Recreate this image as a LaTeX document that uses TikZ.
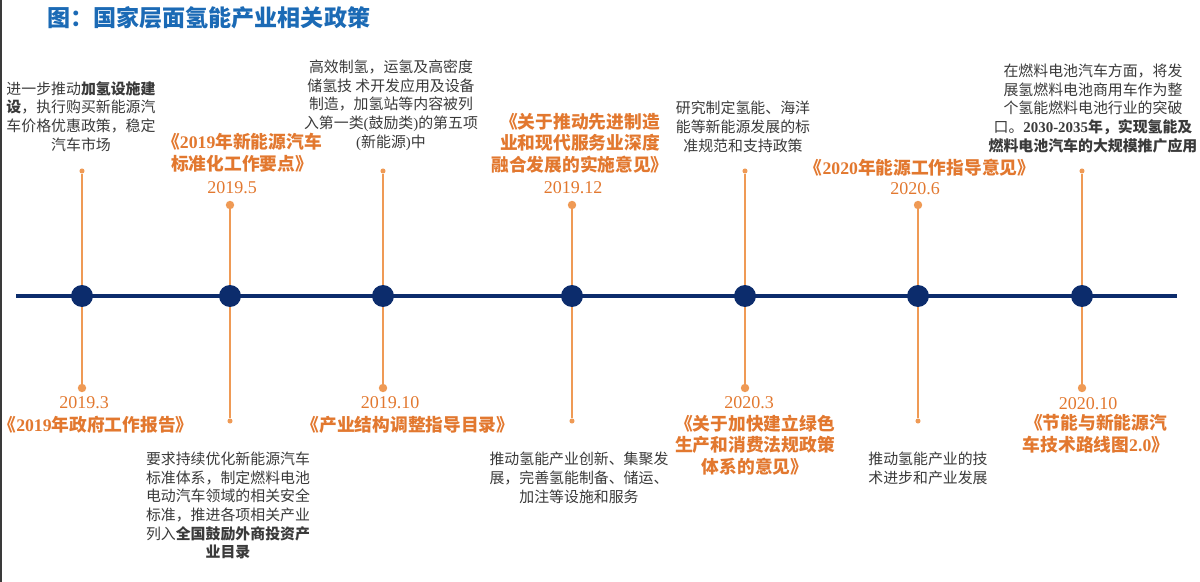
\documentclass[tikz,border=0pt]{standalone}
\usepackage{fontspec}
\setmainfont{Noto Sans CJK SC}
\newfontfamily\dig{Liberation Serif}
\usepackage{tikz}
\usetikzlibrary{positioning}
\definecolor{navy}{HTML}{0C2C6C}
\definecolor{orangetext}{HTML}{E2782F}
\definecolor{orangeline}{HTML}{EF9A55}
\definecolor{graytext}{HTML}{3A3A3A}
\definecolor{titleblue}{HTML}{1B6AB5}
\tikzset{
  axis/.style={navy,line width=2.2pt},
  bigdot/.style={circle,fill=navy,inner sep=0pt,minimum size=15.6pt},
  enddot/.style={circle,fill=orangeline,inner sep=0pt,minimum size=6pt},
  tipdot/.style={circle,fill=orangeline,inner sep=0pt,minimum size=3.6pt},
  stem/.style={orangeline,line width=0.8pt},
  note/.style={text=graytext,align=center,inner sep=0pt,font=\fontsize{10.6}{13.3}\selectfont},
  policy/.style={text=orangetext,align=center,inner sep=0pt,font=\fontsize{12.6}{15.4}\selectfont\bfseries},
  datelabel/.style={text=orangetext,inner sep=0pt,font=\fontsize{12.8}{15}\selectfont\dig},
}
\begin{document}
\begin{tikzpicture}[x=0.025cm,y=-0.025cm]
\useasboundingbox (0,0) rectangle (1200,582);
\draw[graytext,line width=1.1pt] (0.8,0) -- (0.8,582);
\node[text=titleblue,inner sep=0pt,anchor=west,font=\fontsize{16.4}{18}\selectfont\bfseries] (title) at (47,18) {图：国家层面氢能产业相关政策};

% timeline
\coordinate (ls) at (16,296);
\coordinate (le) at (1177,296);
\draw[axis] (ls) -- (le);
\foreach \x/\n in {82/1,383/3,745/5,1082/7} {
  \node[tipdot] (t\n) at (\x,171) {};
  \node[enddot] (b\n) at (\x,388) {};
}
\foreach \x/\n in {230/2,572/4,918/6} {
  \node[enddot] (t\n) at (\x,205) {};
  \node[tipdot] (b\n) at (\x,421) {};
}
\foreach \x/\n in {82/1,230/2,383/3,572/4,745/5,918/6,1082/7} {
  \node[bigdot] (d\n) at (\x,296) {};
  \draw[stem] (d\n) -- (t\n);
  \draw[stem] (d\n) -- (b\n);
}

% 2019.3
\node[note] (n1) at (81,116.5) {进一步推动\textbf{加氢设施建}\\\textbf{设}，执行购买新能源汽\\车价格优惠政策，稳定\\汽车市场};
\node[datelabel] (date1) at (84,403) {2019.3};
\node[policy] (p1) at (96,425) {《{\dig 2019}年政府工作报告》};

% 2019.5
\node[policy] (p2) at (242,153) {《{\dig 2019}年新能源汽车\\标准化工作要点》};
\node[datelabel] (date2) at (232,188) {2019.5};
\node[note] (n2) at (228,505.5) {要求持续优化新能源汽车\\标准体系，制定燃料电池\\电动汽车领域的相关安全\\标准，推进各项相关产业\\列入\textbf{全国鼓励外商投资产}\\\textbf{业目录}};

% 2019.10
\node[note] (n3) at (391,105) {高效制氢，运氢及高密度\\储氢技 术开发应用及设备\\制造，加氢站等内容被列\\入第一类{\dig(}鼓励类{\dig)}的第五项\\{\dig(}新能源{\dig)}中};
\node[datelabel] (date3) at (390,403) {2019.10};
\node[policy] (p3) at (408,425) {《产业结构调整指导目录》};

% 2019.12
\node[policy] (p4) at (580,143) {《关于推动先进制造\\业和现代服务业深度\\融合发展的实施意见》};
\node[datelabel] (date4) at (573,188) {2019.12};
\node[note] (n4) at (579,478) {推动氢能产业创新、集聚发\\展，完善氢能制备、储运、\\加注等设施和服务};

% 2020.3
\node[note] (n5) at (743,127) {研究制定氢能、海洋\\能等新能源发展的标\\准规范和支持政策};
\node[datelabel] (date5) at (749,403) {2020.3};
\node[policy] (p5) at (755,445) {《关于加快建立绿色\\生产和消费法规政策\\体系的意见》};

% 2020.6
\node[policy] (p6) at (920,168) {《{\dig 2020}年能源工作指导意见》};
\node[datelabel] (date6) at (915,189) {2020.6};
\node[note] (n6) at (928,468.5) {推动氢能产业的技\\术进步和产业发展};

% 2020.10
\node[note] (n7) at (1093,108.5) {在燃料电池汽车方面，将发\\展氢燃料电池商用车作为整\\个氢能燃料电池行业的突破\\口。\textbf{{\dig 2030-2035}年，实现氢能及}\\\textbf{燃料电池汽车的大规模推广应用}};
\node[datelabel] (date7) at (1088,404) {2020.10};
\node[policy] (p7) at (1096,434) {《节能与新能源汽\\车技术路线图{\dig 2.0}》};
\end{tikzpicture}
\end{document}
